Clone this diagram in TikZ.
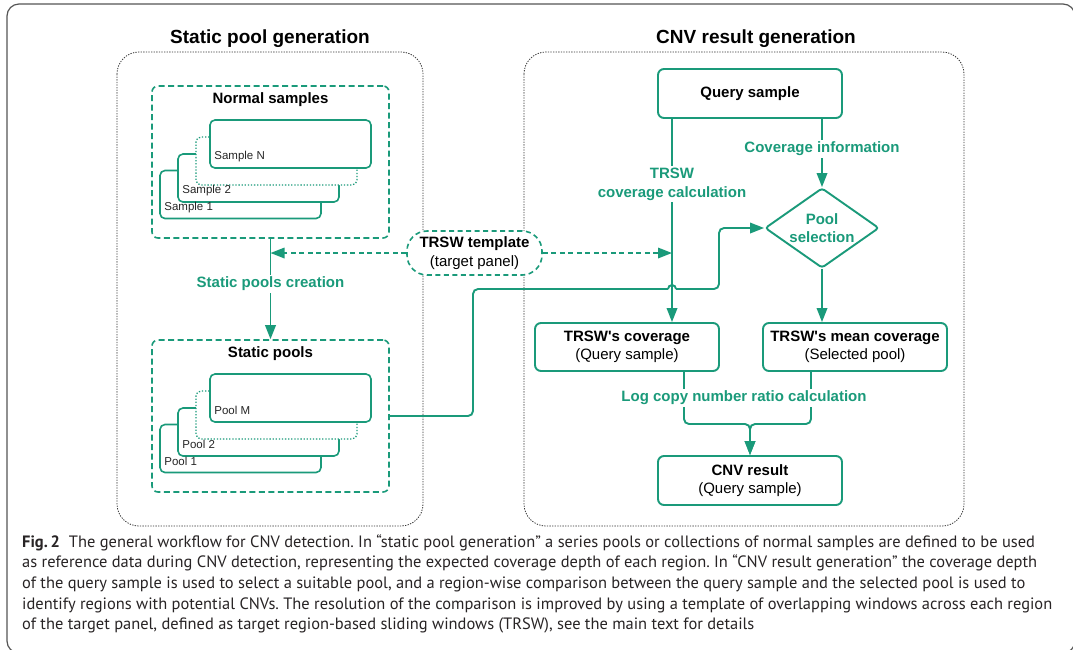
\documentclass[tikz,border=0pt]{standalone}
\usepackage{fontspec}
\setmainfont{Liberation Sans}
\newfontfamily\dfont{Liberation Sans}
\newfontfamily\capfont{PT Sans}
\usetikzlibrary{arrows.meta,shapes.geometric,calc}
\definecolor{flowgreen}{RGB}{26,154,122}
\definecolor{captext}{RGB}{40,36,37}
\definecolor{framegray}{RGB}{85,85,85}
\frenchspacing

\begin{document}
\begin{tikzpicture}[x=1pt,y=-1pt,
  frame/.style={draw=framegray, line width=1.2pt, rounded corners=12pt},
  panel/.style={draw=black!80, line width=0.8pt, dash pattern=on 1.3pt off 1.3pt, rounded corners=22pt},
  paneltitle/.style={font=\dfont\bfseries\fontsize{19}{22}\selectfont, text=black, inner sep=0pt},
  group/.style={draw=flowgreen, line width=1.6pt, dash pattern=on 6pt off 3.5pt, rounded corners=6pt,
    minimum width=237pt, minimum height=152pt, inner sep=0pt},
  grouptitle/.style={font=\dfont\bfseries\fontsize{15}{18}\selectfont, text=black, inner sep=0pt},
  card/.style={draw=flowgreen, line width=1.6pt, fill=white, rounded corners=5pt,
    minimum width=161pt, minimum height=48pt, inner sep=0pt},
  ghost/.style={card, line width=1.3pt, dash pattern=on 1.3pt off 1.8pt},
  cardlabel/.style={font=\dfont\fontsize{11.5}{13}\selectfont, text=black!85, anchor=west, inner sep=0pt},
  box/.style={draw=flowgreen, line width=1.9pt, fill=white, rounded corners=6pt,
    minimum width=184pt, minimum height=48pt, inner sep=0pt, align=center,
    font=\dfont\fontsize{15}{18}\selectfont, text=black},
  choice/.style={diamond, aspect=1.425, draw=flowgreen, line width=1.9pt, fill=white,
    rounded corners=3pt, minimum width=114pt, minimum height=80pt, inner sep=0pt,
    align=center, font=\dfont\bfseries\fontsize{15}{18}\selectfont, text=flowgreen},
  template/.style={draw=flowgreen, line width=1.6pt, dash pattern=on 5pt off 3.5pt, fill=white,
    rounded corners=20pt, minimum width=135pt, minimum height=44pt, inner sep=0pt, align=center,
    font=\dfont\fontsize{15}{19}\selectfont, text=black},
  line/.style={draw=flowgreen, line width=1.9pt},
  flow/.style={line, -{Triangle[length=14pt,width=10.5pt]}},
  dflow/.style={flow, line width=1.7pt, dash pattern=on 5pt off 3.5pt},
  lbl/.style={font=\dfont\bfseries\fontsize{15}{19}\selectfont, text=flowgreen, fill=white,
    align=center, inner sep=2pt},
  capline/.style={font=\capfont\fontsize{16.45}{20.7}\selectfont, text=captext, anchor=base west, inner sep=0pt}
]
\useasboundingbox (0,0) rectangle (1073,649);
\fill[white] (0,0) rectangle (1073,649);
\draw[frame] (7,4) rectangle (1075,653);

% the two stages
\draw[panel] (117,52) rectangle (423,526);
\draw[panel] (524,52) rectangle (964,526);
\node[paneltitle] (t1) at (270,38.5) {Static pool generation};
\node[paneltitle] (t2) at (756,38.5) {CNV result generation};

% normal samples
\node[group] (ns) at (270.5,162) {};
\node[grouptitle] (nst) at (270.5,100) {Normal samples};
\node[card] (s1) at (240.5,194.5) {};
\node[card] (s2) at (258.5,178) {};
\node[ghost] (sg) at (276.5,161) {};
\node[card] (sn) at (290.5,144) {};
\node[cardlabel] (s1l) at ([xshift=5pt,yshift=12pt]s1.south west) {Sample 1};
\node[cardlabel] (s2l) at ([xshift=5pt,yshift=12pt]s2.south west) {Sample 2};
\node[cardlabel] (snl) at ([xshift=5pt,yshift=12pt]sn.south west) {Sample N};

% static pools
\node[group] (sp) at (270.5,416) {};
\node[grouptitle] (spt) at (270.5,354) {Static pools};
\node[card] (p1) at (240.5,448.5) {};
\node[card] (p2) at (258.5,432) {};
\node[ghost] (pg) at (276.5,415) {};
\node[card] (pm) at (290.5,398) {};
\node[cardlabel] (p1l) at ([xshift=5pt,yshift=12pt]p1.south west) {Pool 1};
\node[cardlabel] (p2l) at ([xshift=5pt,yshift=12pt]p2.south west) {Pool 2};
\node[cardlabel] (pml) at ([xshift=5pt,yshift=12pt]pm.south west) {Pool M};

\draw[flow] (ns.south) -- (sp.north);
\node[lbl] (spc) at (270.5,284) {Static pools creation};

% CNV result generation
\node[box, minimum height=49pt] (q) at (750,93.5) {\bfseries Query sample};
\node[box] (cov) at (627,347) {\textbf{TRSW's coverage}\\(Query sample)};
\node[box] (mean) at (855,347) {\textbf{TRSW's mean coverage}\\(Selected pool)};
\node[box, minimum height=49pt] (cnv) at (750,480.5) {\textbf{CNV result}\\(Query sample)};
\node[choice] (sel) at (822,228) {Pool\\selection};

\draw[flow] ([xshift=-78pt]q.south) coordinate (qx) -- ([xshift=45pt]cov.north);
\draw[flow] ([xshift=72pt]q.south) -- (sel.north);
\draw[flow] (sel.south) -- (sel.south |- mean.north);

% template shared by both stages
\node[template] (tm) at (474.5,253) {\textbf{TRSW template}\\(target panel)};
\coordinate (jl) at (ns.south |- tm.west);
\coordinate (jr) at (qx |- tm.east);
\draw[dflow] (tm.west) -- (jl);
\draw[dflow] (tm.east) -- (jr);

% pools feed the selection, hopping over the coverage line
\coordinate (h1) at ([xshift=-4pt]qx |- 0,289);
\coordinate (h2) at ([xshift=4pt]qx |- 0,289);
\draw[line, rounded corners=5pt] (sp.east) -- (473,416) -- (473,289) -- (h1);
\draw[line] (h1) arc[start angle=180, end angle=0, radius=4pt];
\draw[flow, rounded corners=5pt] (h2) -- (719,289) -- (719,228) -- (sel.west);

% ratio of the two coverages
\draw[flow, rounded corners=5pt] ([xshift=57pt]cov.south) -- (684,424) -- (750,424) -- (cnv.north);
\draw[flow, rounded corners=5pt] ([xshift=-44pt]mean.south) -- (811,424) -- (750,424) -- (cnv.north);

\node[lbl] (tcl) at (672,184) {TRSW\\coverage calculation};
\node[lbl] (cvi) at (822,149) {Coverage information};
\node[lbl] (lcr) at (744,398) {Log copy number ratio calculation};

% caption
\node[capline] (c1) at (22,547) {\textbf{Fig.\,2}\hspace{0.55em}The general workflow for CNV detection. In “static pool generation” a series pools or collections of normal samples are defined to be used};
\node[capline] (c2) at (22,567.7) {as reference data during CNV detection, representing the expected coverage depth of each region. In “CNV result generation” the coverage depth};
\node[capline] (c3) at (22,588.4) {of the query sample is used to select a suitable pool, and a region-wise comparison between the query sample and the selected pool is used to};
\node[capline] (c4) at (22,609.1) {identify regions with potential CNVs. The resolution of the comparison is improved by using a template of overlapping windows across each region};
\node[capline] (c5) at (22,629.8) {of the target panel, defined as target region-based sliding windows (TRSW), see the main text for details};
\end{tikzpicture}
\end{document}
